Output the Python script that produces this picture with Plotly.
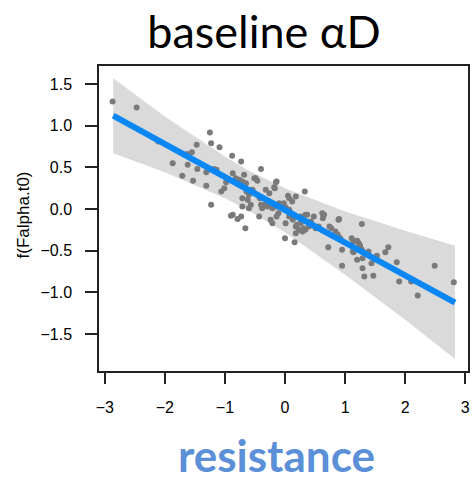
import plotly.graph_objects as go

# Partial effect of resistance on baseline alpha diversity
resistance = [
    -2.87, -2.47, -2.11,
    -1.87, -1.71, -1.63, -1.62, -1.55, -1.53, -1.47, -1.46, -1.31, -1.31, -1.25, -1.23, -1.23,
    -1.18, -1.14, -1.09, -1.06, -1.01, -0.98,
    -0.90, -0.88, -0.87, -0.87, -0.82, -0.79, -0.76, -0.73, -0.73, -0.71, -0.71, -0.71, -0.68,
    -0.66, -0.65, -0.64, -0.62, -0.60, -0.60, -0.57, -0.54, -0.51, -0.49, -0.46, -0.43, -0.42,
    -0.40, -0.40, -0.38, -0.35, -0.32, -0.29, -0.29, -0.26, -0.24, -0.24, -0.21, -0.21, -0.18,
    -0.17, -0.15, -0.15, -0.14, -0.14, -0.11, -0.10, -0.06, -0.04, -0.02,
    0.00, 0.01, 0.01, 0.05, 0.07, 0.07, 0.07, 0.12, 0.13, 0.16, 0.18, 0.18, 0.18, 0.20, 0.23,
    0.26, 0.26, 0.29, 0.31, 0.33, 0.34, 0.34, 0.37, 0.40, 0.43, 0.43, 0.48, 0.51, 0.56, 0.62,
    0.63, 0.65, 0.72, 0.74, 0.77, 0.84, 0.88, 0.89, 0.90, 0.92, 0.95, 0.95,
    1.11, 1.13, 1.14, 1.14, 1.18, 1.20, 1.20, 1.23, 1.25, 1.28, 1.28, 1.29, 1.29, 1.32, 1.34,
    1.39, 1.42, 1.44, 1.47, 1.53, 1.67, 1.72, 1.86, 1.90, 2.10, 2.21, 2.49, 2.81,
]
partial_resid = [
    1.29, 1.22, 0.81,
    0.55, 0.40, 0.66, 0.53, 0.68, 0.34, 0.77, 0.48, 0.44, 0.28, 0.92, 0.79, 0.05,
    0.48, 0.47, 0.74, 0.21, 0.25, 0.32,
    -0.08, 0.64, 0.43, -0.07, 0.37, -0.12, 0.35, 0.57, -0.09, 0.33, 0.13, 0.03, 0.41,
    -0.23, 0.31, 0.21, 0.11, 0.17, 0.01, 0.05, 0.23, 0.37, 0.37, 0.34, -0.09, 0.13,
    0.48, 0.05, 0.01, 0.05, 0.23, 0.07, 0.03, 0.19, 0.07, -0.13, 0.01, -0.17, 0.26,
    0.25, 0.32, 0.03, 0.33, -0.09, -0.05, 0.07, 0.05, 0.03, 0.07,
    -0.35, 0.02, -0.17, 0.16, 0.13, -0.01, -0.09, 0.09, -0.13, -0.40, 0.15, -0.21, -0.29, -0.19, -0.25,
    -0.09, -0.17, -0.27, -0.23, 0.21, -0.07, -0.25, -0.07, -0.21, -0.15, -0.19, -0.09, -0.23, -0.21, -0.05,
    -0.11, -0.07, -0.46, -0.21, -0.23, -0.27, -0.31, -0.13, -0.12, -0.35, -0.49, -0.68,
    -0.35, -0.51, -0.39, -0.52, -0.48, -0.38, -0.61, -0.41, -0.44, -0.18, -0.49, -0.59, -0.71, -0.81, -0.53,
    -0.51, -0.57, -0.65, -0.80, -0.56, -0.52, -0.46, -0.64, -0.87, -0.87, -1.04, -0.68, -0.88,
]

# Fitted smooth with its confidence band
fit_x = [-2.86, -2.0, -1.0, -0.6, 0.0, 1.0, 2.0, 2.83]
fit_y = [1.12, 0.774, 0.381, 0.224, -0.012, -0.405, -0.798, -1.124]
band_upper = [1.57, 1.11, 0.63, 0.46, 0.25, -0.03, -0.26, -0.44]
band_lower = [0.67, 0.44, 0.13, -0.02, -0.28, -0.79, -1.33, -1.80]

x_ticks = [-3, -2, -1, 0, 1, 2, 3]
y_ticks = [-1.5, -1.0, -0.5, 0.0, 0.5, 1.0, 1.5]
y_tick_text = ["\u22121.5", "\u22121.0", "\u22120.5", "0.0", "0.5", "1.0", "1.5"]
x_tick_text = ["\u22123", "\u22122", "\u22121", "0", "1", "2", "3"]

fig = go.Figure()

fig.add_trace(go.Scatter(
    x=fit_x + fit_x[::-1],
    y=band_upper + band_lower[::-1],
    fill="toself",
    fillcolor="#dadada",
    line=dict(width=0),
    mode="lines",
    hoverinfo="skip",
    showlegend=False,
))

fig.add_trace(go.Scatter(
    x=resistance, y=partial_resid,
    mode="markers",
    marker=dict(color="#7a7a7a", size=6, line=dict(width=0)),
    showlegend=False,
))

fig.add_trace(go.Scatter(
    x=fit_x, y=fit_y,
    mode="lines",
    line=dict(color="#0a87f5", width=6),
    showlegend=False,
))

fig.update_layout(
    width=473, height=481,
    margin=dict(l=99, r=3, t=66, b=110),
    paper_bgcolor="white",
    plot_bgcolor="white",
    font=dict(family="Liberation Sans, Arial, sans-serif", color="black", size=16),
    title=dict(
        text="baseline \u03b1D",
        font=dict(family="Lato, Open Sans, sans-serif", size=45, color="black"),
        x=264 / 473, xanchor="center",
        y=1 - 32 / 481, yanchor="middle",
    ),
)

fig.update_xaxes(
    range=[-3.096, 3.046],
    tickvals=x_ticks, ticktext=x_tick_text,
    ticks="outside", ticklen=11, tickwidth=1.5, tickcolor="#222",
    ticklabelstandoff=10,
    showline=True, linecolor="#222", linewidth=1.5, mirror=True,
    showgrid=False, zeroline=False,
)
fig.update_yaxes(
    range=[-1.945, 1.717],
    tickvals=y_ticks, ticktext=y_tick_text,
    ticks="outside", ticklen=12, tickwidth=1.5, tickcolor="#222",
    ticklabelstandoff=10,
    showline=True, linecolor="#222", linewidth=1.5, mirror=True,
    showgrid=False, zeroline=False,
)

# y-axis label
fig.add_annotation(
    text="f(Falpha.t0)",
    xref="paper", yref="paper",
    x=(23 - 99) / 371, y=(371 - 215) / 305,
    xanchor="center", yanchor="middle",
    textangle=-90, showarrow=False,
    font=dict(family="Liberation Sans, Arial, sans-serif", size=17, color="black"),
)

# x-axis label
fig.add_annotation(
    text="<b>resistance</b>",
    xref="paper", yref="paper",
    x=(277 - 99) / 371, y=-(455 - 371) / 305,
    xanchor="center", yanchor="middle",
    showarrow=False,
    font=dict(family="Lato, Open Sans, sans-serif", size=44, color="#5b8fd8"),
)

fig.write_html("out.html")
